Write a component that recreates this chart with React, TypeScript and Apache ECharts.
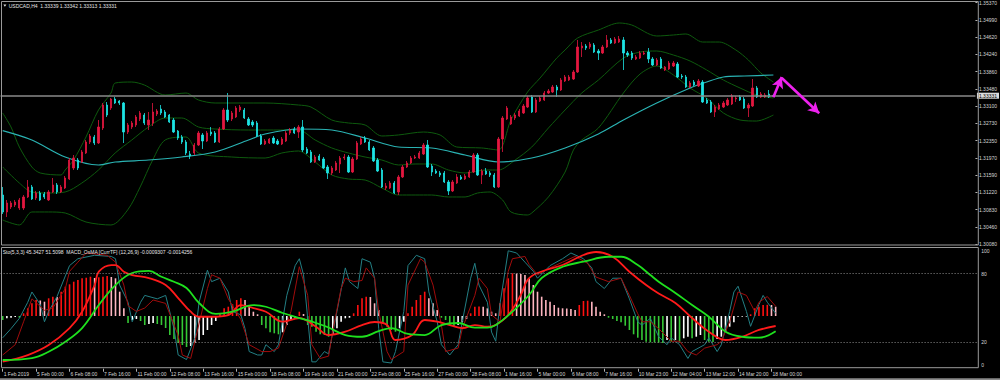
import React, { useEffect, useRef } from 'react';
import * as echarts from 'echarts';

// ---------- texts ----------
const symbolName = 'USDCAD,H4';
const headerValues = ['1.33339', '1.33342', '1.33313', '1.33331'];
const lastPrice = 1.33331;
const lastPriceLabel = '1.33331';
const stochHeader = 'Sto(5,3,3) 45.3427 51.5098';
const macdHeader = 'MACD_OsMA [CurrTF] (12,26,9) -0.0009307 -0.0014256';

const priceMin = 1.3008;
const priceMax = 1.3537;
const priceTickLabels = ['1.30080', '1.30460', '1.30830', '1.31220', '1.31590', '1.31970', '1.32350', '1.32730', '1.33100', '1.33480', '1.33860', '1.34240', '1.34620', '1.34990', '1.35370'];
const stochLevels = [0, 20, 80, 100];
const stochDotted = [80, 20];

const timeLabels = ['1 Feb 2019', '5 Feb 00:00', '6 Feb 08:00', '7 Feb 16:00', '11 Feb 00:00', '12 Feb 08:00', '13 Feb 16:00', '15 Feb 00:00', '18 Feb 08:00', '19 Feb 16:00', '21 Feb 00:00', '22 Feb 08:00', '25 Feb 16:00', '27 Feb 00:00', '28 Feb 08:00', '1 Mar 16:00', '5 Mar 00:00', '6 Mar 08:00', '7 Mar 16:00', '10 Mar 23:00', '12 Mar 04:00', '13 Mar 12:00', '14 Mar 20:00', '18 Mar 00:00'];
const barsPerLabel = 8;
const slotCount = 234;

// ---------- candles [open, high, low, close] ----------
const ohlc: number[][] = [
  [1.31154, 1.31330, 1.30738, 1.30782], [1.30782, 1.31045, 1.30672, 1.30979], [1.30891, 1.31023, 1.30847, 1.30979], [1.30935, 1.31045, 1.30891, 1.31001],
  [1.30869, 1.31089, 1.30826, 1.31045], [1.30869, 1.31154, 1.30826, 1.31111], [1.31111, 1.31483, 1.31089, 1.31330], [1.31330, 1.31374, 1.31045, 1.31067],
  [1.31089, 1.31242, 1.31045, 1.31198], [1.31198, 1.31242, 1.31023, 1.31045], [1.31176, 1.31220, 1.31067, 1.31111], [1.31045, 1.31264, 1.31023, 1.31220],
  [1.31220, 1.31527, 1.31198, 1.31374], [1.31374, 1.31417, 1.31176, 1.31220], [1.31220, 1.31374, 1.31198, 1.31330], [1.31308, 1.31571, 1.31286, 1.31527],
  [1.31505, 1.31965, 1.31483, 1.31921], [1.31746, 1.32031, 1.31702, 1.31965], [1.31921, 1.31965, 1.31702, 1.31746], [1.31878, 1.32141, 1.31856, 1.32097],
  [1.32075, 1.32360, 1.32053, 1.32316], [1.32316, 1.32491, 1.32272, 1.32448], [1.32426, 1.32470, 1.32250, 1.32294], [1.32294, 1.32798, 1.32272, 1.32645],
  [1.32623, 1.33171, 1.32579, 1.33127], [1.33127, 1.33193, 1.32864, 1.32908], [1.33061, 1.33281, 1.33018, 1.33259], [1.33259, 1.33303, 1.33149, 1.33171],
  [1.33215, 1.33237, 1.33127, 1.33171], [1.33171, 1.33193, 1.32294, 1.32535], [1.32535, 1.32733, 1.32491, 1.32689], [1.32645, 1.32776, 1.32601, 1.32733],
  [1.32689, 1.32908, 1.32645, 1.32864], [1.32820, 1.32996, 1.32776, 1.32952], [1.32908, 1.32952, 1.32689, 1.32733], [1.32689, 1.32974, 1.32579, 1.32798],
  [1.32733, 1.33171, 1.32667, 1.32974], [1.32930, 1.33039, 1.32886, 1.32996], [1.33039, 1.33127, 1.32908, 1.32952], [1.32974, 1.33018, 1.32842, 1.32864],
  [1.32908, 1.32930, 1.32733, 1.32754], [1.32798, 1.32842, 1.32513, 1.32535], [1.32557, 1.32579, 1.32360, 1.32404], [1.32426, 1.32470, 1.32272, 1.32316],
  [1.32316, 1.32360, 1.32031, 1.32075], [1.32053, 1.32119, 1.31943, 1.32009], [1.32075, 1.32294, 1.32031, 1.32250], [1.32250, 1.32557, 1.32228, 1.32513],
  [1.32470, 1.32513, 1.32163, 1.32338], [1.32338, 1.32557, 1.32316, 1.32513], [1.32535, 1.32645, 1.32448, 1.32491], [1.32513, 1.32557, 1.32294, 1.32316],
  [1.32316, 1.32645, 1.32294, 1.32601], [1.32601, 1.33061, 1.32579, 1.33018], [1.33018, 1.33390, 1.32754, 1.32798], [1.32820, 1.32996, 1.32776, 1.32952],
  [1.32864, 1.33105, 1.32842, 1.33061], [1.33018, 1.33127, 1.32974, 1.33083], [1.33018, 1.33061, 1.32820, 1.32842], [1.32820, 1.32864, 1.32667, 1.32689],
  [1.32754, 1.32798, 1.32645, 1.32689], [1.32733, 1.32776, 1.32426, 1.32448], [1.32448, 1.32491, 1.32250, 1.32272], [1.32272, 1.32382, 1.32250, 1.32338],
  [1.32294, 1.32404, 1.32272, 1.32382], [1.32404, 1.32448, 1.32272, 1.32294], [1.32338, 1.32382, 1.32250, 1.32272], [1.32272, 1.32426, 1.32250, 1.32382],
  [1.32338, 1.32557, 1.32316, 1.32513], [1.32513, 1.32623, 1.32470, 1.32579], [1.32601, 1.32645, 1.32491, 1.32513], [1.32535, 1.32689, 1.32404, 1.32645],
  [1.32645, 1.32798, 1.32097, 1.32141], [1.32163, 1.32206, 1.32053, 1.32075], [1.32097, 1.32141, 1.31856, 1.31878], [1.31878, 1.32031, 1.31856, 1.31987],
  [1.32009, 1.32053, 1.31900, 1.31921], [1.31943, 1.31987, 1.31724, 1.31746], [1.31768, 1.31812, 1.31505, 1.31637], [1.31637, 1.31790, 1.31593, 1.31746],
  [1.31702, 1.31900, 1.31680, 1.31856], [1.31834, 1.32009, 1.31637, 1.31965], [1.31965, 1.32053, 1.31921, 1.31987], [1.31987, 1.32031, 1.31637, 1.31658],
  [1.31658, 1.31987, 1.31637, 1.31943], [1.31943, 1.32338, 1.31921, 1.32294], [1.32272, 1.32426, 1.32250, 1.32382], [1.32404, 1.32448, 1.32294, 1.32316],
  [1.32316, 1.32360, 1.32119, 1.32141], [1.32185, 1.32228, 1.31878, 1.31900], [1.31921, 1.31965, 1.31658, 1.31680], [1.31702, 1.31746, 1.31308, 1.31330],
  [1.31308, 1.31417, 1.31264, 1.31352], [1.31308, 1.31461, 1.31286, 1.31417], [1.31417, 1.31461, 1.31176, 1.31198], [1.31220, 1.31593, 1.31154, 1.31549],
  [1.31549, 1.31812, 1.31527, 1.31768], [1.31768, 1.31900, 1.31746, 1.31856], [1.31856, 1.32009, 1.31834, 1.31965], [1.31965, 1.32031, 1.31943, 1.31987],
  [1.31965, 1.32119, 1.31943, 1.32075], [1.32053, 1.32294, 1.32031, 1.32250], [1.32250, 1.32360, 1.31746, 1.31768], [1.31790, 1.31834, 1.31571, 1.31658],
  [1.31680, 1.31724, 1.31615, 1.31637], [1.31637, 1.31680, 1.31549, 1.31593], [1.31637, 1.31680, 1.31417, 1.31439], [1.31439, 1.31483, 1.31154, 1.31242],
  [1.31242, 1.31483, 1.31220, 1.31439], [1.31417, 1.31615, 1.31395, 1.31549], [1.31549, 1.31593, 1.31483, 1.31505], [1.31505, 1.31615, 1.31483, 1.31571],
  [1.31549, 1.31702, 1.31527, 1.31658], [1.31658, 1.32075, 1.31637, 1.32031], [1.32031, 1.32075, 1.31571, 1.31593], [1.31593, 1.31724, 1.31395, 1.31680],
  [1.31680, 1.31746, 1.31593, 1.31615], [1.31637, 1.31680, 1.31549, 1.31593], [1.31593, 1.31637, 1.31308, 1.31330], [1.31330, 1.32426, 1.31308, 1.32382],
  [1.32382, 1.32886, 1.32097, 1.32842], [1.32820, 1.33105, 1.32798, 1.33061], [1.32711, 1.32908, 1.32689, 1.32864], [1.32842, 1.32952, 1.32798, 1.32908],
  [1.32886, 1.33039, 1.32864, 1.32996], [1.32952, 1.33149, 1.32930, 1.33105], [1.33083, 1.33324, 1.33061, 1.33281], [1.33303, 1.33346, 1.32952, 1.32974],
  [1.32974, 1.33281, 1.32952, 1.33237], [1.33215, 1.33324, 1.33193, 1.33281], [1.33237, 1.33434, 1.33215, 1.33390], [1.33390, 1.33478, 1.33368, 1.33434],
  [1.33412, 1.33566, 1.33390, 1.33522], [1.33522, 1.33566, 1.33303, 1.33456], [1.33456, 1.33719, 1.33434, 1.33675], [1.33653, 1.33785, 1.33631, 1.33741],
  [1.33675, 1.33785, 1.33653, 1.33741], [1.33697, 1.33894, 1.33675, 1.33851], [1.33851, 1.34552, 1.33829, 1.34399], [1.34377, 1.34508, 1.34179, 1.34421],
  [1.34421, 1.34464, 1.34333, 1.34377], [1.34399, 1.34508, 1.34355, 1.34464], [1.34442, 1.34486, 1.34267, 1.34289], [1.34311, 1.34355, 1.34114, 1.34267],
  [1.34267, 1.34442, 1.34245, 1.34399], [1.34399, 1.34662, 1.34377, 1.34552], [1.34552, 1.34596, 1.34464, 1.34486], [1.34486, 1.34618, 1.34464, 1.34574],
  [1.34508, 1.34640, 1.34486, 1.34574], [1.34552, 1.34618, 1.33894, 1.34267], [1.34267, 1.34311, 1.34179, 1.34223], [1.34267, 1.34311, 1.34114, 1.34157],
  [1.34136, 1.34223, 1.34114, 1.34179], [1.34157, 1.34311, 1.34136, 1.34267], [1.34245, 1.34311, 1.34223, 1.34267], [1.34289, 1.34377, 1.34048, 1.34136],
  [1.34136, 1.34179, 1.33982, 1.34004], [1.34004, 1.34157, 1.33982, 1.34114], [1.34136, 1.34179, 1.33916, 1.33938], [1.33894, 1.33982, 1.33872, 1.33960],
  [1.33916, 1.34092, 1.33894, 1.34048], [1.33982, 1.34092, 1.33960, 1.34048], [1.34026, 1.34070, 1.33719, 1.33741], [1.33763, 1.33807, 1.33697, 1.33741],
  [1.33741, 1.33785, 1.33500, 1.33522], [1.33522, 1.33653, 1.33500, 1.33609], [1.33631, 1.33675, 1.33544, 1.33566], [1.33544, 1.33697, 1.33522, 1.33653],
  [1.33631, 1.33675, 1.33171, 1.33193], [1.33237, 1.33281, 1.33149, 1.33171], [1.33193, 1.33237, 1.32952, 1.32974], [1.32974, 1.33127, 1.32864, 1.33083],
  [1.33039, 1.33171, 1.33018, 1.33127], [1.33083, 1.33215, 1.33061, 1.33171], [1.33127, 1.33281, 1.33105, 1.33237], [1.33149, 1.33368, 1.33127, 1.33324],
  [1.33259, 1.33324, 1.33193, 1.33281], [1.33303, 1.33346, 1.33215, 1.33237], [1.33259, 1.33303, 1.33039, 1.33061], [1.33061, 1.33171, 1.32864, 1.33127],
  [1.33105, 1.33697, 1.33083, 1.33500], [1.33500, 1.33544, 1.33281, 1.33303], [1.33303, 1.33412, 1.33281, 1.33368], [1.33303, 1.33390, 1.33281, 1.33346],
  [1.33368, 1.33456, 1.33281, 1.33303], [1.33339, 1.33342, 1.33313, 1.33331],
];

// ---------- main-chart indicator lines [bar, price] ----------
const maLine = [[0, 1.32565], [7, 1.3236], [15, 1.31987], [23, 1.31812], [27, 1.31878], [35, 1.31921], [43, 1.31987], [51, 1.32097], [59, 1.3236], [63, 1.32491], [71, 1.32601], [79, 1.32579], [87, 1.32404], [95, 1.32206], [103, 1.32185], [111, 1.32031], [119, 1.31878], [127, 1.31965], [135, 1.32185], [143, 1.32491], [149, 1.32798], [157, 1.33171], [165, 1.335], [169, 1.33631], [173, 1.33741], [178, 1.33763], [185, 1.33785]];
const bbUpper = [[0, 1.32952], [2, 1.32645], [4, 1.32206], [7, 1.31768], [9, 1.31637], [14, 1.31593], [15, 1.31702], [17, 1.31921], [20, 1.32426], [23, 1.33018], [26, 1.3339], [27, 1.33609], [31, 1.33631], [34, 1.33566], [39, 1.33346], [44, 1.3339], [47, 1.33237], [51, 1.33171], [63, 1.33171], [71, 1.33127], [74, 1.33083], [79, 1.32798], [83, 1.32733], [87, 1.32689], [91, 1.32448], [95, 1.3247], [101, 1.32535], [105, 1.3247], [109, 1.32206], [115, 1.32185], [119, 1.32141], [122, 1.32798], [126, 1.33412], [129, 1.33719], [133, 1.34157], [135, 1.34333], [138, 1.34596], [143, 1.34771], [148, 1.34925], [151, 1.34881], [157, 1.3464], [161, 1.34662], [164, 1.34684], [168, 1.34508], [172, 1.34508], [176, 1.34333], [179, 1.34114], [182, 1.33829], [185, 1.33631]];
const bbMiddle = [[0, 1.31768], [4, 1.31417], [7, 1.3122], [11, 1.31198], [15, 1.3122], [19, 1.31417], [23, 1.31702], [27, 1.32075], [31, 1.3236], [35, 1.32645], [39, 1.32842], [43, 1.32842], [47, 1.32645], [51, 1.32601], [59, 1.32579], [71, 1.32579], [75, 1.3236], [79, 1.32185], [83, 1.32075], [87, 1.31987], [91, 1.31921], [95, 1.31812], [99, 1.31834], [103, 1.31834], [107, 1.31702], [111, 1.31637], [116, 1.31702], [119, 1.31702], [123, 1.31921], [127, 1.32206], [131, 1.32623], [135, 1.33018], [139, 1.3339], [143, 1.33675], [149, 1.34157], [153, 1.34289], [157, 1.34311], [161, 1.34223], [165, 1.34092], [169, 1.33894], [173, 1.33675], [177, 1.335], [181, 1.33346], [185, 1.33281]];
const bbLower = [[0, 1.30606], [4, 1.30497], [7, 1.30782], [11, 1.30782], [15, 1.3076], [20, 1.30562], [26, 1.30497], [30, 1.30826], [33, 1.3133], [36, 1.31921], [39, 1.3236], [44, 1.32426], [47, 1.32075], [55, 1.31987], [63, 1.31965], [67, 1.32075], [71, 1.32119], [75, 1.31878], [79, 1.31593], [83, 1.31505], [87, 1.31483], [91, 1.31308], [95, 1.31154], [99, 1.31154], [103, 1.31154], [107, 1.31111], [111, 1.31111], [114, 1.31198], [117, 1.3122], [120, 1.31045], [122, 1.30782], [126, 1.30716], [127, 1.3076], [131, 1.31111], [135, 1.31658], [137, 1.32141], [139, 1.3236], [143, 1.32623], [149, 1.3339], [153, 1.33807], [157, 1.33982], [161, 1.33785], [165, 1.335], [169, 1.33281], [173, 1.32952], [177, 1.32798], [181, 1.32776], [185, 1.32908]];

// ---------- lower panel ----------
const stochMain = [[0, 24], [2, 32], [4, 41], [6, 55], [7, 64], [9, 53], [10, 38], [11, 47], [13, 60], [15, 78], [16, 87], [18, 93], [22, 96], [26, 95], [27, 93], [28, 70], [30, 55], [31, 38], [33, 55], [34, 61], [37, 58], [39, 61], [41, 32], [42, 9], [44, 5], [46, 24], [47, 55], [49, 83], [50, 73], [52, 76], [54, 64], [55, 47], [57, 44], [58, 32], [59, 12], [61, 9], [62, 9], [63, 18], [65, 12], [66, 18], [68, 61], [70, 87], [71, 93], [72, 79], [74, 3], [75, 3], [77, 12], [78, 10], [80, 47], [82, 85], [83, 73], [85, 67], [86, 93], [88, 90], [89, 76], [90, 32], [91, 3], [93, 2], [94, 12], [96, 47], [97, 87], [99, 96], [101, 93], [102, 64], [104, 38], [105, 18], [107, 9], [109, 18], [110, 38], [112, 76], [113, 89], [114, 70], [116, 55], [117, 29], [118, 21], [119, 53], [121, 100], [123, 98], [125, 90], [127, 82], [128, 76], [131, 87], [134, 93], [136, 98], [139, 93], [141, 85], [142, 73], [144, 67], [146, 76], [148, 76], [150, 58], [152, 38], [153, 35], [155, 41], [157, 25], [159, 18], [160, 24], [162, 18], [164, 6], [165, 12], [168, 18], [169, 24], [171, 12], [172, 18], [174, 47], [175, 64], [176, 69], [178, 47], [179, 34], [181, 53], [182, 61], [183, 55], [185, 45.3427]];
const stochSignal = [[0, 9], [3, 18], [5, 38], [7, 58], [10, 48], [12, 50], [15, 67], [16, 82], [18, 90], [20, 98], [25, 96], [27, 90], [29, 70], [30, 52], [32, 47], [34, 50], [36, 57], [39, 54], [42, 26], [43, 9], [45, 6], [46, 21], [49, 67], [50, 79], [52, 76], [54, 58], [57, 40], [59, 18], [62, 12], [64, 12], [66, 15], [69, 47], [71, 86], [73, 61], [74, 18], [76, 6], [78, 8], [79, 30], [81, 67], [82, 76], [84, 73], [86, 74], [87, 85], [89, 76], [90, 47], [92, 12], [93, 5], [96, 12], [97, 70], [100, 93], [101, 90], [103, 70], [105, 35], [106, 12], [109, 15], [110, 32], [113, 61], [114, 76], [116, 67], [117, 44], [119, 38], [121, 82], [122, 93], [125, 95], [126, 88], [128, 79], [131, 85], [134, 90], [137, 95], [140, 89], [142, 77], [145, 73], [148, 76], [150, 61], [152, 45], [153, 38], [155, 38], [157, 32], [160, 21], [162, 21], [164, 12], [166, 9], [168, 15], [171, 18], [172, 21], [174, 38], [176, 64], [178, 61], [180, 47], [181, 55], [183, 60], [185, 51.5098]];
const macdMain = [[0, -0.00425], [6, -0.00363], [11, -0.0027], [16, -0.00112], [19, 0.0004], [22, 0.00288], [23, 0.00412], [26, 0.00474], [27, 0.00474], [29, 0.00412], [31, 0.00381], [35, 0.00353], [39, 0.00288], [42, 0.00167], [45, 0.0004], [47, -0.00007], [50, -0.00007], [54, 0.00009], [57, 0.00102], [60, 0.00074], [63, 0.0004], [67, -0.00053], [71, -0.00019], [75, -0.001], [78, -0.00177], [82, -0.00146], [86, -0.00084], [89, -0.00056], [92, -0.00084], [94, -0.00223], [98, -0.00177], [101, -0.00037], [104, -0.00053], [107, -0.00084], [110, -0.00112], [113, -0.00084], [116, -0.001], [118, -0.00084], [121, 0.00009], [124, 0.00195], [126, 0.00353], [130, 0.00428], [134, 0.00474], [139, 0.00567], [142, 0.00595], [146, 0.00551], [150, 0.00412], [154, 0.00288], [157, 0.00209], [161, 0.00121], [165, -0.00019], [169, -0.00146], [173, -0.00223], [177, -0.00193], [181, -0.0013], [185, -0.0009307]];
const macdSignal = [[0, -0.00409], [7, -0.00391], [11, -0.00332], [15, -0.00239], [19, -0.00112], [23, 0.00102], [27, 0.00288], [31, 0.004], [35, 0.00419], [38, 0.00365], [41, 0.00319], [44, 0.0026], [47, 0.00121], [51, 0.00019], [55, 0.0004], [60, 0.00102], [63, 0.00086], [67, 0.00028], [71, -0.00019], [75, -0.00065], [78, -0.00107], [82, -0.00177], [86, -0.00193], [90, -0.0014], [93, -0.00112], [97, -0.00167], [101, -0.00177], [105, -0.00084], [109, -0.00065], [113, -0.00109], [116, -0.00109], [118, -0.00084], [122, 0.0004], [126, 0.00195], [129, 0.00353], [134, 0.00458], [139, 0.00505], [145, 0.00551], [148, 0.00551], [152, 0.00474], [155, 0.00381], [157, 0.00319], [161, 0.00214], [165, 0.00102], [169, -0.00007], [173, -0.00146], [177, -0.00193], [181, -0.00202], [185, -0.0014256]];
const osma = [
  -4, -2.3, -1.7, -1, -1.7, 2.7, 7.7, 12.7, 16, 15.5, 14.3, 17.7, 19.3, 19, 24.3, 29.3, 31.7, 34.3, 36, 37.7,
  38.3, 39.3, 38, 38.7, 39.3, 40, 39, 37.7, 24.3, 7.7, -7, -4, -3, -5, -9, -8, -7, -8, -9, -12,
  -19, -23, -27, -29, -31, -30, -27, -24, -19, -14, -9, -5, 2.7, 7.7, 9.3, 11.7, 16, 17.7, 16, 11,
  4.3, 1.7, -9, -12.3, -16.3, -17.3, -18.3, -16.3, -9, -4, -1.7, 4.3, 2, -9, -10.7, -15.7, -18.3, -19, -20.7, -19,
  -12.3, -5.7, -2.3, -1.7, 2.7, 11, 17.7, 19.3, 19, 12.7, 6, -7.3, -10.7, -14, -15.7, -12.3, -5.7, 2.7, 9.3, 16,
  21, 24.3, 17.7, 12.7, 6, -1.7, -4, -9, -10.7, -9, -6.3, -3, 2.7, 9.3, 9.5, 9.3, 7.7, 4.3, 2.7, 12.7,
  27.7, 37.7, 42.7, 42.5, 42, 41, 37.7, 31, 24.3, 19.3, 16, 14.3, 11, 8.3, 7.7, 7.5, 7, 6, 11, 15,
  15.3, 14.3, 9.3, 4.3, 1.7, -1.7, -3, -5, -6.3, -9.7, -14, -18.3, -21.7, -24, -25.7, -26.3, -26.5, -26.7, -27, -24,
  -25.7, -24, -25.7, -22.3, -20.7, -22.3, -20.7, -19, -24, -25.7, -26, -23, -20.7, -15.7, -10.7, -6.3, -0.8, -0.7, -0.6, 1.7,
  7.7, 9.3, 11, 11.2, 11, 9.3,
];

// ---------- forecast arrows [bar, price] ----------
const arrowUp = [[185, 1.33296], [187, 1.33741]];
const arrowDown = [[187, 1.3372], [196, 1.32945]];

// ---------- style ----------
const FONT = '"Liberation Sans", Arial, sans-serif';
const TXT = '#d6d6d6';
const FRAME = '#9a9a9a';
const BULL = '#e3173f';
const BEAR = '#1de4e4';
const BB = '#0e5a0e';
const MA = '#2ab3b3';
const ARROW = '#ee22ee';

const categories = Array.from({ length: slotCount }, (_, i) => String(i));
const isLabelSlot = (idx: number) => idx % barsPerLabel === 0 && idx / barsPerLabel < timeLabels.length;

function buildOption(): any {
  const gl = 0.6;
  const gw = 977.7;
  const xAx = (g: number) => ({
    type: 'category',
    gridIndex: g,
    data: categories,
    boundaryGap: true,
    axisLine: { show: false },
    splitLine: { show: false },
    axisTick: g === 2 ? { show: true, alignWithLabel: true, interval: isLabelSlot, length: 3, lineStyle: { color: '#b4b4b4', width: 1 } } : { show: false },
    axisLabel: g === 2
      ? {
        show: true,
        interval: isLabelSlot,
        formatter: (_v: string, idx: number) => (isLabelSlot(idx) ? timeLabels[idx / barsPerLabel] : ''),
        color: TXT, fontSize: 5, fontFamily: FONT, align: 'left', margin: 3, padding: [0, 0, 0, 1],
      }
      : { show: false },
  });

  const lineS = (data: number[][], color: string, width: number, xi: number, yi: number, smooth: number | boolean, z = 2) => ({
    type: 'line', data, xAxisIndex: xi, yAxisIndex: yi, showSymbol: false, symbol: 'none', smooth,
    lineStyle: { color, width }, z, clip: true, silent: true,
  });

  return {
    backgroundColor: '#000',
    animation: false,
    textStyle: { fontFamily: FONT },
    grid: [
      { left: gl, top: 2.7, width: gw, height: 241.3 },
      { left: gl, top: 250.7, width: gw, height: 114.6 },
      { left: gl, top: 367.7, width: gw, height: 1 },
    ],
    xAxis: [xAx(0), xAx(1), xAx(2)],
    yAxis: [
      { gridIndex: 0, type: 'value', min: priceMin, max: priceMax, show: false, position: 'left' },
      {
        gridIndex: 0, type: 'value', min: 0, max: priceTickLabels.length - 1, interval: 1, position: 'right',
        axisLine: { show: false }, splitLine: { show: false },
        axisTick: { show: true, length: 2, lineStyle: { color: '#b4b4b4' } },
        axisLabel: { formatter: (v: number) => priceTickLabels[Math.round(v)] ?? '', color: TXT, fontSize: 5, fontFamily: FONT, margin: 3.5 },
      },
      {
        gridIndex: 1, type: 'value', min: 0, max: 100, interval: 20, position: 'right',
        axisLine: { show: false }, splitLine: { show: false }, axisTick: { show: false },
        axisLabel: { formatter: (v: number) => (stochLevels.includes(v) ? String(v) : ''), color: TXT, fontSize: 5, fontFamily: FONT, margin: 3 },
      },
      { gridIndex: 1, type: 'value', min: -0.0045849, max: 0.0060729, show: false, position: 'left' },
      { gridIndex: 1, type: 'value', min: -49.3, max: 65.3, show: false, position: 'left' },
      { gridIndex: 2, type: 'value', min: 0, max: 1, show: false },
    ],
    series: [
      lineS(bbUpper, BB, 1, 0, 0, 0.3, 1),
      {
        ...lineS(bbMiddle, BB, 1, 0, 0, 0.3, 1),
        markLine: {
          silent: true, symbol: ['none', 'none'], animation: false, precision: 6,
          lineStyle: { color: '#8a8a8a', width: 1.5, type: 'solid' },
          label: {
            show: true, position: 'end', formatter: lastPriceLabel, color: '#000', backgroundColor: '#dcdcdc',
            fontSize: 5, fontFamily: FONT, padding: [1, 2, 0, 2], distance: 1.5,
          },
          data: [{ yAxis: lastPrice }],
        },
      },
      lineS(bbLower, BB, 1, 0, 0, 0.3, 1),
      {
        ...lineS(maLine, MA, 1.2, 0, 0, 0.3, 2),
        markLine: {
          silent: true, symbol: ['none', 'arrow'], symbolSize: [9, 11], animation: false, precision: 6,
          lineStyle: { color: ARROW, width: 2.6, type: 'solid' },
          label: { show: false },
          data: [
            [{ coord: arrowUp[0] }, { coord: arrowUp[1] }],
            [{ coord: arrowDown[0] }, { coord: arrowDown[1] }],
          ],
        },
      },
      {
        type: 'candlestick', xAxisIndex: 0, yAxisIndex: 0, z: 3, silent: true,
        data: ohlc.map(([o, h, l, c]) => [o, c, l, h]),
        barWidth: 1.8,
        itemStyle: { color: BULL, color0: BEAR, borderColor: BULL, borderColor0: BEAR, borderWidth: 0.8 },
      },
      {
        type: 'bar', xAxisIndex: 1, yAxisIndex: 4, data: osma, barWidth: 1.6, silent: true, z: 1,
        itemStyle: {
          color: (p: any) => {
            const i = p.dataIndex;
            const v = osma[i];
            const prev = i > 0 ? osma[i - 1] : v;
            if (v >= 0) return v >= prev ? '#ff1010' : '#ffb6c1';
            return v <= prev ? '#35c935' : '#ffffff';
          },
        },
      },
      {
        ...lineS(stochMain, '#237f84', 1, 1, 2, false, 2),
        markLine: {
          silent: true, symbol: ['none', 'none'], animation: false, label: { show: false }, precision: 6,
          lineStyle: { color: '#8c8c8c', width: 1, type: [1, 2] },
          data: stochDotted.map((v) => ({ yAxis: v })),
        },
      },
      lineS(stochSignal, '#a00c0c', 1, 1, 2, false, 2),
      lineS(macdMain, '#ff1a1a', 1.8, 1, 3, 0.4, 3),
      lineS(macdSignal, '#1ee01e', 1.8, 1, 3, 0.4, 3),
    ],
    graphic: [
      { type: 'rect', silent: true, z: 100, shape: { x: 1.5, y: 1.5, width: 976.8, height: 243.5 }, style: { fill: 'none', stroke: FRAME, lineWidth: 1 } },
      { type: 'rect', silent: true, z: 100, shape: { x: 1.5, y: 247.5, width: 976.8, height: 120.2 }, style: { fill: 'none', stroke: FRAME, lineWidth: 1 } },
      { type: 'rect', silent: true, z: 100, shape: { x: 0, y: 378.3, width: 1000, height: 1.7 }, style: { fill: '#8a8a8a' } },
      { type: 'polygon', silent: true, z: 100, shape: { points: [[3.4, 4.6], [6.4, 4.6], [4.9, 6.8]] }, style: { fill: '#e0e0e0' } },
      {
        type: 'text', silent: true, z: 100, x: 8.7, y: 5.8,
        style: { text: `${symbolName}  ${headerValues.join(' ')}`, fill: '#e6e6e6', fontSize: 5, fontFamily: FONT, verticalAlign: 'middle' },
      },
      {
        type: 'text', silent: true, z: 100, x: 2.7, y: 252.3,
        style: { text: `${stochHeader}  ${macdHeader}`, fill: '#e6e6e6', fontSize: 5, fontFamily: FONT, verticalAlign: 'middle' },
      },
    ],
  };
}

export default function App() {
  const ref = useRef<HTMLDivElement>(null);
  useEffect(() => {
    if (!ref.current) return;
    const chart = echarts.init(ref.current, undefined, { renderer: 'svg', width: 1000, height: 380 });
    chart.setOption(buildOption());
    return () => chart.dispose();
  }, []);
  return (
    <div
      ref={ref}
      style={{ position: 'fixed', left: 0, top: 0, width: 1000, height: 380, background: '#000' }}
    />
  );
}
